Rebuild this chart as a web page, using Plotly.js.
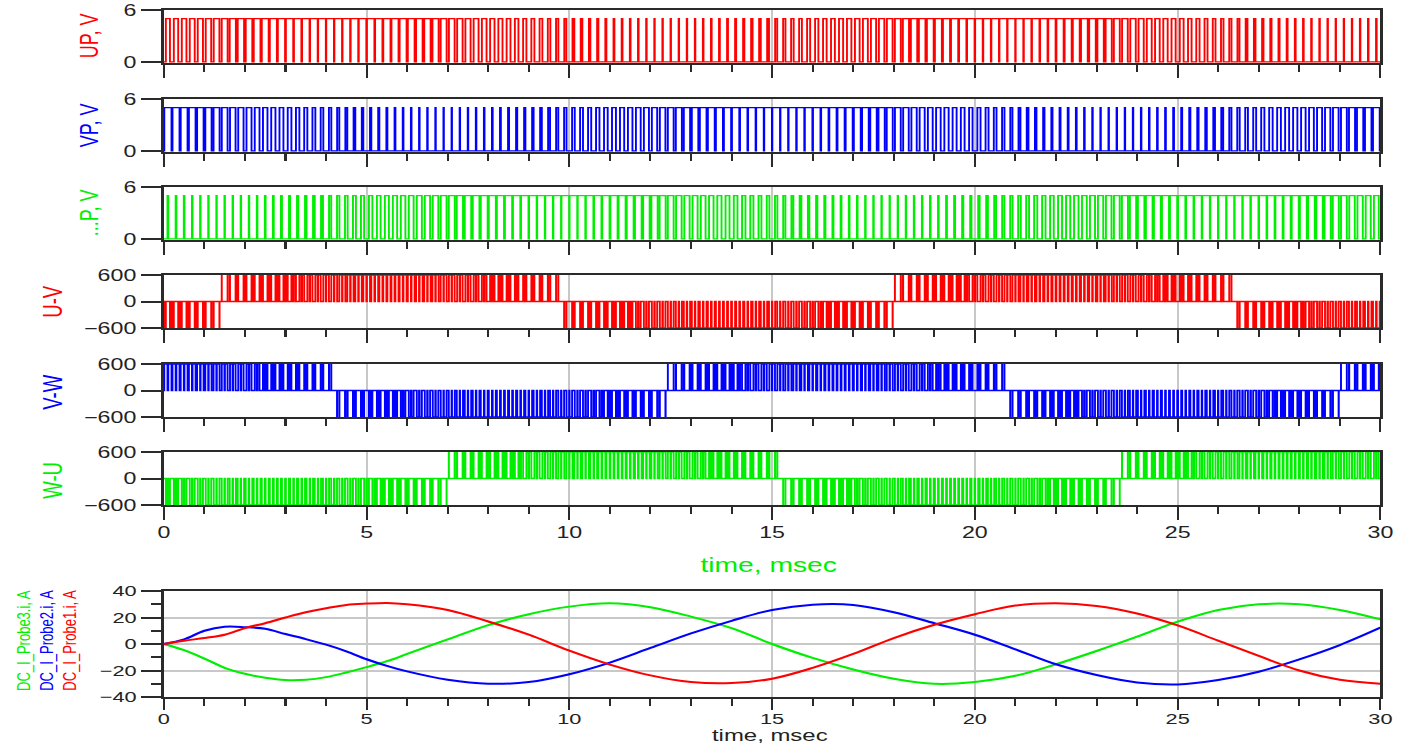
<!DOCTYPE html>
<html>
<head>
<meta charset="utf-8">
<script src="https://cdn.plot.ly/plotly-3.0.1.min.js"></script>
<style>
  html, body { margin: 0; padding: 0; background: #fff; overflow: hidden; }
  #chart { width: 971px; height: 745px; transform: scaleX(1.45); transform-origin: 0 0; }
</style>
</head>
<body>
<div id="chart"></div>
<script>
// ---------------- data ----------------
// time axis limits, ms
const timeRange = [0, 30];
// PWM carrier period (ms), gate high level (V), DC link (V)
const carrierPeriod = [0.2];
const gateHigh = [5];
const dcLink = [600];

// duty-cycle of each leg, sampled every 1 ms (t = 0..30)
const dutyU = [0.49,0.66,0.80,0.90,0.95,0.93,0.85,0.72,0.56,0.39,0.24,0.12,0.06,0.06,0.12,0.24,0.39,0.56,0.72,0.85,0.93,0.95,0.90,0.80,0.66,0.49,0.32,0.18,0.09,0.05,0.08];
const dutyV = [0.90,0.79,0.64,0.47,0.31,0.17,0.08,0.05,0.08,0.17,0.31,0.47,0.64,0.79,0.90,0.95,0.93,0.86,0.73,0.58,0.41,0.25,0.13,0.06,0.06,0.11,0.22,0.38,0.54,0.71,0.84];
const dutyW = [0.11,0.06,0.06,0.13,0.25,0.41,0.58,0.73,0.86,0.93,0.95,0.90,0.79,0.64,0.47,0.31,0.17,0.08,0.05,0.08,0.17,0.31,0.47,0.64,0.79,0.90,0.95,0.93,0.86,0.73,0.58];

// probe currents (A)
const tCur = [0,0.5,1,1.5,2,2.5,3,3.5,4,4.5,5,5.5,6,7,8,9,10,11,12,13,14,15,16,17,18,19,20,21,22,23,24,25,26,27,28,29,30];
const iProbe1 = [0,2.5,4.5,7,12,15.7,20,24,27,29.5,30.5,31,30,25.7,17,7,-5,-15.5,-23.7,-28.7,-29.5,-26.2,-18,-7.5,4.5,14.5,22.5,29,30.7,28.7,23,14,2.5,-9,-20,-27,-30];
const iProbe2 = [0,3.5,10,13,12.7,11.5,7.5,3.7,-0.5,-5.5,-11.5,-16.5,-20.7,-27,-30,-28.7,-22.8,-14,-3,8,17.5,25.7,29.7,29.5,24,15.7,7,-4,-15.3,-23.4,-29,-30.5,-27.2,-20.9,-11.6,-0.8,12.3];
const iProbe3 = [0,-4.7,-11,-18,-22.5,-25.5,-27.2,-27,-25,-21.5,-17.5,-13,-7.5,3.5,14.3,22.5,28.2,30.7,27.8,20.7,12,0,-10.5,-19.2,-26.2,-30,-28.7,-24,-15.3,-5.3,5.5,16.9,25.7,30,30,25.7,18.6];

// labels
const gateTitles = ['UP, V', 'VP, V', '...P, V'];
const lineTitles = ['U-V', 'V-W', 'W-U'];
const probeTitles = ['DC_I_Probe3.i, A', 'DC_I_Probe2.i, A', 'DC_I_Probe1.i, A'];
const xTitle = 'time, msec';
const gateTicks = [0, 6];
const lineTicks = [-600, 0, 600];

// ---------------- build traces ----------------
const RED = '#ff0000', BLUE = '#0000ff', GREEN = '#00ee00';
const Tc = carrierPeriod[0];
const nCarrier = Math.round((timeRange[1] - timeRange[0]) / Tc);

function dutyAt(arr, t) {
  const i = Math.min(Math.floor(t), arr.length - 2);
  const f = t - i;
  return arr[i] * (1 - f) + arr[i + 1] * f;
}
function gateWave(duty) {
  const xs = [timeRange[0]], ys = [0];
  for (let k = 0; k < nCarrier; k++) {
    const c = (k + 0.5) * Tc, d = dutyAt(duty, c);
    xs.push(c - d * Tc / 2, c + d * Tc / 2);
    ys.push(gateHigh[0], 0);
  }
  xs.push(timeRange[1]); ys.push(0);
  return { xs, ys };
}
function lineWave(dA, dB) {
  const xs = [timeRange[0]], ys = [0];
  for (let k = 0; k < nCarrier; k++) {
    const c = (k + 0.5) * Tc, a = dutyAt(dA, c), b = dutyAt(dB, c);
    const hi = Math.max(a, b) * Tc / 2, lo = Math.min(a, b) * Tc / 2;
    const v = a >= b ? dcLink[0] : -dcLink[0];
    xs.push(c - hi, c - lo, c + lo, c + hi);
    ys.push(v, 0, v, 0);
  }
  xs.push(timeRange[1]); ys.push(0);
  return { xs, ys };
}

const traces = [];
const gates = [[dutyU, RED], [dutyV, BLUE], [dutyW, GREEN]];
gates.forEach((g, i) => {
  const w = gateWave(g[0]);
  traces.push({ x: w.xs, y: w.ys, type: 'scatter', mode: 'lines', line: { color: g[1], width: 1.3, shape: 'hv' },
    xaxis: 'x' + (i + 1), yaxis: 'y' + (i + 1), hoverinfo: 'skip' });
});
const lines = [[dutyU, dutyV, RED], [dutyV, dutyW, BLUE], [dutyW, dutyU, GREEN]];
lines.forEach((g, i) => {
  const w = lineWave(g[0], g[1]);
  traces.push({ x: w.xs, y: w.ys, type: 'scatter', mode: 'lines', line: { color: g[2], width: 1.3, shape: 'hv' },
    xaxis: 'x' + (i + 4), yaxis: 'y' + (i + 4), hoverinfo: 'skip' });
});
[[iProbe3, GREEN], [iProbe2, BLUE], [iProbe1, RED]].forEach(p => {
  traces.push({ x: tCur, y: p[0], type: 'scatter', mode: 'lines', line: { color: p[1], width: 2, shape: 'spline', smoothing: 1 },
    xaxis: 'x7', yaxis: 'y7', hoverinfo: 'skip' });
});

// ---------------- layout ----------------
const FONT = 'Liberation Sans, Arial, sans-serif';
const AX = '#2a2a2a';
const plotTop = 10, plotBot = 697;
const H = plotBot - plotTop;
function dom(top, bot) { return [(plotBot - bot) / H, (plotBot - top) / H]; }
const panels = [[10, 63], [99, 152], [187, 240], [275, 328], [364, 417], [452, 505], [591, 697]];

const layout = {
  width: 971, height: 745,
  margin: { l: 113, r: 19, t: plotTop, b: 745 - plotBot },
  paper_bgcolor: '#fff', plot_bgcolor: '#fff',
  showlegend: false,
  font: { family: FONT, color: '#222' },
  annotations: []
};
for (let i = 1; i <= 7; i++) {
  const showLab = (i === 6 || i === 7);
  layout['xaxis' + i] = {
    anchor: 'y' + i, range: timeRange, matches: i === 1 ? undefined : 'x',
    showline: true, mirror: true, linecolor: AX, linewidth: 2,
    ticks: 'outside', tick0: 0, dtick: 5, ticklen: i === 7 ? 11 : 13, tickwidth: 1.4, tickcolor: AX,
    minor: { dtick: 1, ticks: 'outside', ticklen: 7, tickwidth: 1.4, tickcolor: AX, showgrid: false },
    showgrid: true, gridcolor: '#c8c8c8', gridwidth: 1.5, zeroline: false,
    showticklabels: showLab, tickfont: { family: FONT, size: i === 7 ? 15 : 16, color: '#222' },
    ticklabelstandoff: i === 7 ? -4 : -1,
    fixedrange: true
  };
  const yax = {
    domain: dom(panels[i - 1][0], panels[i - 1][1]), anchor: 'x' + i,
    showline: true, mirror: true, linecolor: AX, linewidth: 2,
    ticks: 'outside', ticklen: 13.8, tickwidth: 2, tickcolor: AX,
    showgrid: false, zeroline: false,
    tickfont: { family: FONT, size: i === 7 ? 15 : 16, color: '#222' },
    fixedrange: true
  };
  if (i <= 3) { yax.range = [-0.12, 6]; yax.tickvals = gateTicks; }
  else if (i <= 6) { yax.range = [-600, 600]; yax.tickvals = lineTicks; }
  else {
    yax.range = [-40, 40]; yax.tick0 = -40; yax.dtick = 20;
    yax.showgrid = true; yax.gridcolor = '#c8c8c8'; yax.gridwidth = 2;
    yax.minor = { dtick: 10, ticks: 'outside', ticklen: 6.9, tickwidth: 2, tickcolor: AX, showgrid: false };
  }
  layout['yaxis' + i] = yax;
}

function px2x(px) { return (px - 164) / 1216; }
function py2y(py) { return (plotBot - py) / H; }
const titleCols = [RED, BLUE, GREEN];
const gateCenters = [36, 125, 213];
gateTitles.forEach((t, i) => layout.annotations.push({
  text: t, xref: 'paper', yref: 'paper', x: px2x(89), y: py2y(gateCenters[i]), xanchor: 'center', yanchor: 'middle',
  textangle: -90, showarrow: false, font: { family: FONT, size: 18, color: titleCols[i] }
}));
const lineCenters = [301, 392, 480];
lineTitles.forEach((t, i) => layout.annotations.push({
  text: t, xref: 'paper', yref: 'paper', x: px2x(52), y: py2y(lineCenters[i]), xanchor: 'center', yanchor: 'middle',
  textangle: -90, showarrow: false, font: { family: FONT, size: 18.5, color: titleCols[i] }
}));
const probeCols = [GREEN, BLUE, RED];
const probeX = [24, 47, 70];
probeTitles.forEach((t, i) => layout.annotations.push({
  text: t, xref: 'paper', yref: 'paper', x: px2x(probeX[i]), y: py2y(693), xanchor: 'center', yanchor: 'bottom',
  textangle: -90, showarrow: false, font: { family: FONT, size: 13, color: probeCols[i] }
}));
layout.annotations.push({
  text: xTitle, xref: 'paper', yref: 'paper', x: px2x(769), y: py2y(565), xanchor: 'center', yanchor: 'middle',
  showarrow: false, font: { family: FONT, size: 19.5, color: GREEN }
});
layout.annotations.push({
  text: xTitle, xref: 'paper', yref: 'paper', x: px2x(770), y: py2y(735), xanchor: 'center', yanchor: 'middle',
  showarrow: false, font: { family: FONT, size: 16.5, color: '#222' }
});

Plotly.newPlot('chart', traces, layout, { displayModeBar: false, staticPlot: true });
</script>
</body>
</html>
